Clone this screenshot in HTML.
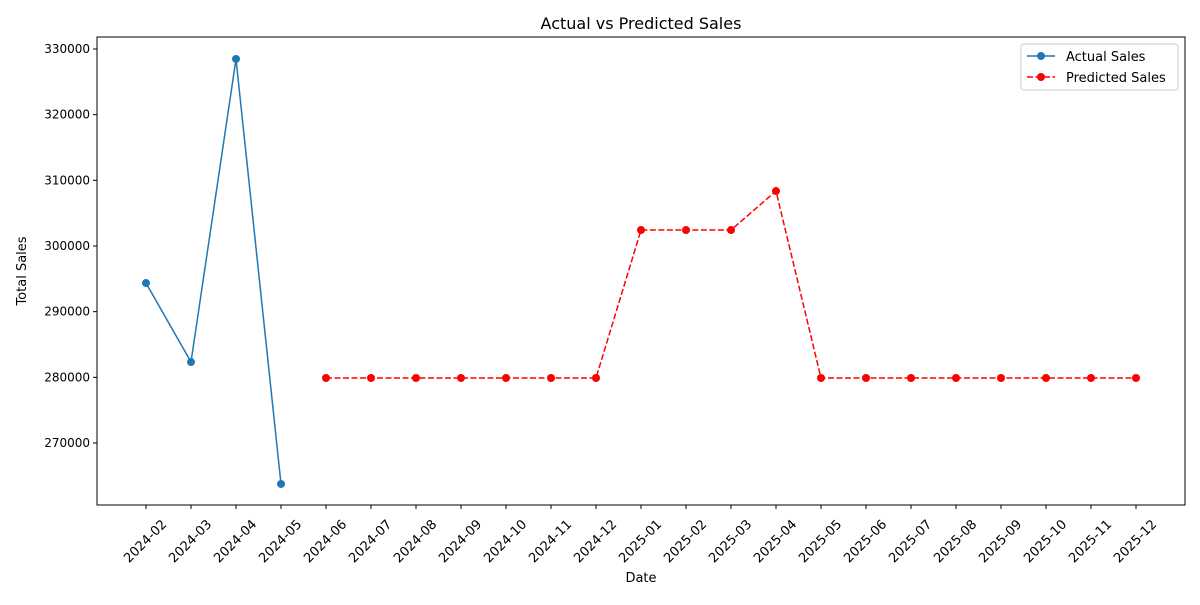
<!DOCTYPE html>
<html><head><meta charset="utf-8"><style>
body{margin:0;background:#fff;font-family:"Liberation Sans","DejaVu Sans",sans-serif;}
svg text{font-family:"DejaVu Sans","Liberation Sans",sans-serif;}
</style></head><body>
<svg id="chart" width="1200" height="600" xmlns="http://www.w3.org/2000/svg"></svg>
<script>
const categories=["2024-02","2024-03","2024-04","2024-05","2024-06","2024-07","2024-08","2024-09","2024-10","2024-11","2024-12","2025-01","2025-02","2025-03","2025-04","2025-05","2025-06","2025-07","2025-08","2025-09","2025-10","2025-11","2025-12"];
const actualValues=[294360,282330,328480,263760];
const predictedValues=[279900,279900,279900,279900,279900,279900,279900,302430,302430,302430,308370,279900,279900,279900,279900,279900,279900,279900,279900];
const predictedStart=4;
const yTicks=[270000,280000,290000,300000,310000,320000,330000];
const svg=document.getElementById('chart');
const NS='http://www.w3.org/2000/svg';
const L=97,R=1185,T=37,B=505;
function x(i){return 146+i*(1136-146)/(categories.length-1);}
function y(v){return 443-(v-270000)*(443-49)/60000;}
function el(tag,attrs,parent){const e=document.createElementNS(NS,tag);for(const k in attrs)e.setAttribute(k,attrs[k]);(parent||svg).appendChild(e);return e;}
const frame=el('rect',{x:L,y:T,width:R-L,height:B-T,fill:'none',stroke:'#000','stroke-width':1});


yTicks.forEach(v=>{
 const g=el('g',{});
 
 
 el('line',{x1:L-4,x2:L,y1:y(v),y2:y(v),stroke:'#000'},g);
 const t=el('text',{x:L-7,y:y(v)+4,'text-anchor':'end','font-size':12},g);t.textContent=v;
});
categories.forEach((c,i)=>{
 const g=el('g',{});
 
 
 el('line',{x1:x(i),x2:x(i),y1:B,y2:B+4,stroke:'#000'},g);
 const cx=x(i)-1, cy=B+36;
 const t=el('text',{x:cx,y:cy+4.5,'text-anchor':'middle','font-size':13,transform:`rotate(-45 ${cx} ${cy})`},g);t.textContent=c;
});
const ap=el('polyline',{points:actualValues.map((v,i)=>x(i)+','+y(v)).join(' '),fill:'none',stroke:'#1f77b4','stroke-width':1.5});


actualValues.forEach((v,i)=>{const c=el('circle',{cx:x(i),cy:y(v),r:4,fill:'#1f77b4'});
 
 });
const pp=el('polyline',{points:predictedValues.map((v,i)=>x(i+predictedStart)+','+y(v)).join(' '),fill:'none',stroke:'#ff0000','stroke-width':1.5,'stroke-dasharray':'6,2.5'});


predictedValues.forEach((v,i)=>{const c=el('circle',{cx:x(i+predictedStart),cy:y(v),r:4,fill:'#ff0000'});
 
 });
const title=el('text',{x:(L+R)/2,y:29,'text-anchor':'middle','font-size':16});title.textContent='Actual vs Predicted Sales';


const xt=el('text',{x:(L+R)/2,y:582,'text-anchor':'middle','font-size':13});xt.textContent='Date';


const yt=el('text',{x:26,y:271,'text-anchor':'middle','font-size':13,transform:'rotate(-90 26 271)'});yt.textContent='Total Sales';


const lg=el('g',{});


el('rect',{x:1021,y:44,width:157,height:46,rx:3,fill:'#fff',stroke:'#ccc'},lg);
el('line',{x1:1027,x2:1055,y1:56,y2:56,stroke:'#1f77b4','stroke-width':1.5},lg);
el('circle',{cx:1041,cy:56,r:4,fill:'#1f77b4'},lg);
const l1=el('text',{x:1066,y:61,'font-size':13},lg);l1.textContent='Actual Sales';
el('line',{x1:1027,x2:1055,y1:77,y2:77,stroke:'#ff0000','stroke-width':1.5,'stroke-dasharray':'6,2.5'},lg);
el('circle',{cx:1041,cy:77,r:4,fill:'#ff0000'},lg);
const l2=el('text',{x:1066,y:82,'font-size':13},lg);l2.textContent='Predicted Sales';
</script>
</body></html>
